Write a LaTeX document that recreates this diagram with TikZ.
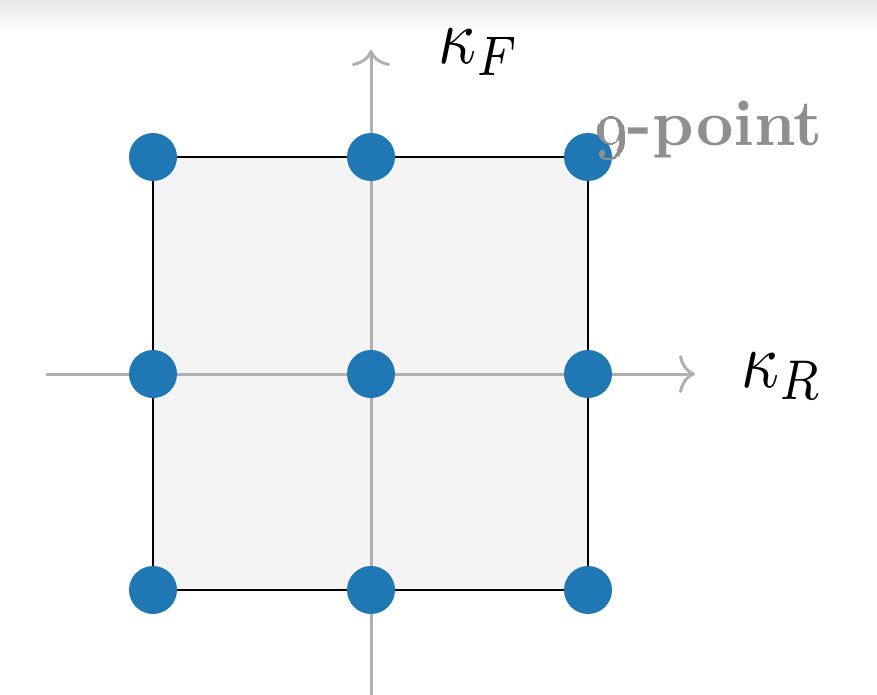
\documentclass[tikz,border=0pt]{standalone}
\usetikzlibrary{arrows.meta}
\definecolor{dotblue}{HTML}{1F77B4}
\definecolor{axisgray}{HTML}{B0B0B0}
\definecolor{boxfill}{HTML}{F4F4F4}
\definecolor{labelgray}{HTML}{8F8F8F}
\tikzset{
  dot/.style={circle,fill=dotblue,minimum size=48pt,inner sep=0pt},
  axisline/.style={draw=axisgray,line width=3pt,-{Computer Modern Rightarrow[length=16pt,width=38pt]}},
  boxline/.style={draw=black,line width=2.6pt,fill=boxfill},
  mathlabel/.style={inner sep=0pt,xscale=6.6,yscale=8},
}
\begin{document}
\begin{tikzpicture}[x=1pt,y=-1pt]
\useasboundingbox (0,0) rectangle (877,695);
% top shadow band
\shade[top color=black!9,bottom color=white] (0,0) rectangle (877,32);
% coordinates of grid
\coordinate (c11) at (153,157); \coordinate (c12) at (371,157); \coordinate (c13) at (588,157);
\coordinate (c21) at (153,374); \coordinate (c22) at (371,374); \coordinate (c23) at (588,374);
\coordinate (c31) at (153,590); \coordinate (c32) at (371,590); \coordinate (c33) at (588,590);
% square
\path[boxline] (c11) rectangle (c33);
% axes
\coordinate (ybot) at (371,695); \coordinate (ytop) at (371,50);
\coordinate (xleft) at (46,374); \coordinate (xright) at (695,374);
\draw[axisline] (ybot) -- (ytop);
\draw[axisline] (xleft) -- (xright);
% dots
\foreach \n in {c11,c12,c13,c21,c22,c23,c31,c32,c33}
  \node[dot] (d\n) at (\n) {};
% labels
\node[mathlabel] (kf) at (479,52) {$\kappa_F$};
\node[mathlabel] (kr) at (782,376) {$\kappa_R$};
\node[anchor=base,inner sep=0pt,text=labelgray,scale=6.5] (title) at (709,146) {\bfseries\oldstylenums{9}-point};
\end{tikzpicture}
\end{document}
